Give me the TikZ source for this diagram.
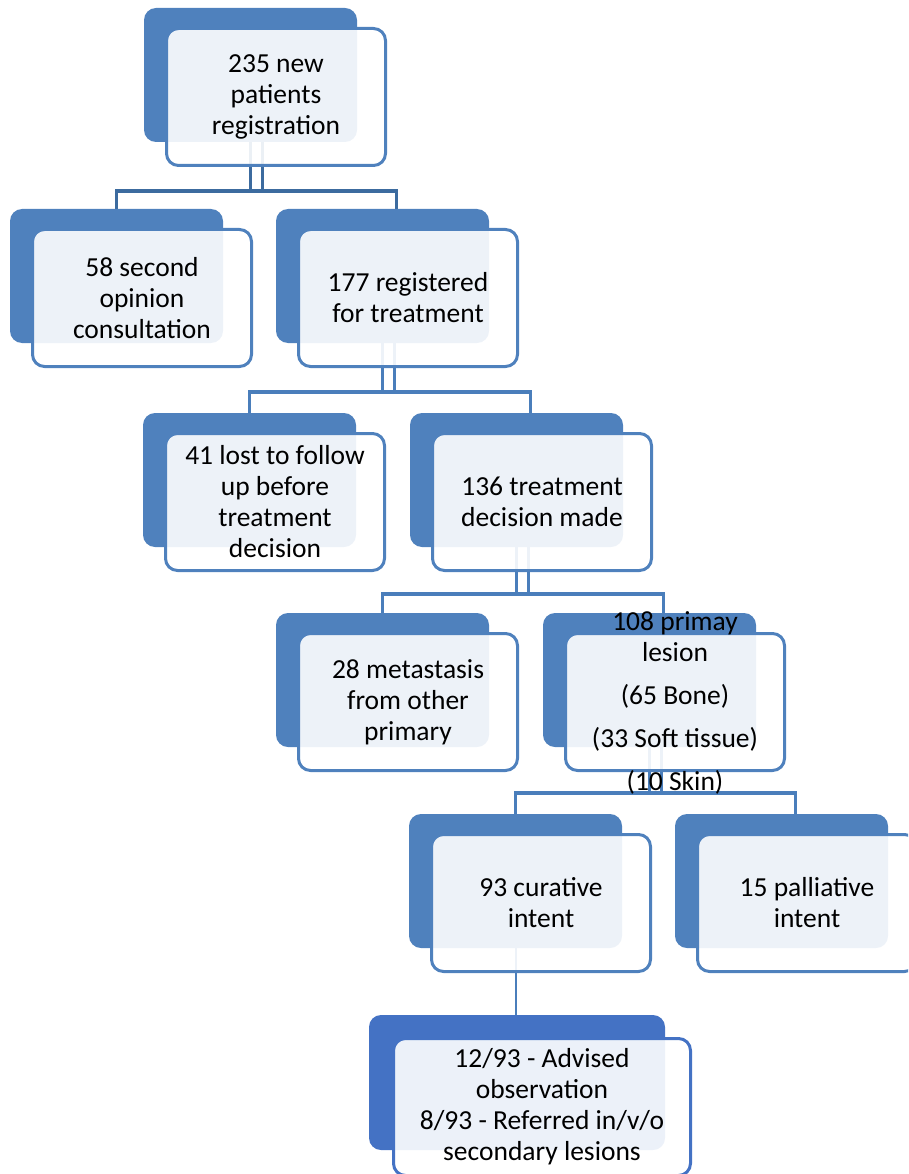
\documentclass[tikz,border=0pt]{standalone}
\usepackage{fontspec}
\setmainfont{Carlito}
\usepackage{tikz}
\usetikzlibrary{calc}
\definecolor{boxblue}{HTML}{4F81BD}
\definecolor{boxblueb}{HTML}{4472C4}
\definecolor{linkdark}{HTML}{3C6B9F}
\definecolor{linkblue}{HTML}{4A7EBB}
\pgfdeclarelayer{background}
\pgfsetlayers{background,main}
\tikzset{
  backbox/.style={fill=boxblue, rounded corners=12pt, minimum width=213pt, minimum height=134pt, inner sep=0pt},
  frontbox/.style={draw=boxblue, line width=3pt, fill=white, fill opacity=0.9, text opacity=1, rounded corners=12pt,
    minimum width=219pt, minimum height=137pt, inner sep=0pt, align=center, font={\fontsize{27.5}{31}\selectfont}},
  boxtext/.style={inner sep=0pt, align=center, font={\fontsize{27.5}{31}\selectfont}},
  link/.style={draw=linkblue, line width=3.5pt},
  toplink/.style={draw=linkdark, line width=3.5pt},
  thinlink/.style={draw=linkblue, line width=2pt},
}

\begin{document}
\begin{tikzpicture}[x=1pt,y=-1pt]
  \useasboundingbox (0,0) rectangle (908,1174);
  \clip (0,0) rectangle (908,1174);
  % each box: dark card up-left, light card in front
  \coordinate (reg-c) at (276,97);
  \node[backbox] (reg-b) at ($(reg-c)+(-25.5,-22)$) {};
  \node[frontbox] (reg) at (reg-c) {235 new\\patients\\registration};

  \coordinate (second-c) at (142,298);
  \node[backbox] (second-b) at ($(second-c)+(-25.5,-22)$) {};
  \node[frontbox] (second) at (second-c) {58 second\\opinion\\consultation};

  \coordinate (registered-c) at (408,298);
  \node[backbox] (registered-b) at ($(registered-c)+(-25.5,-22)$) {};
  \node[frontbox] (registered) at (registered-c) {177 registered\\for treatment};

  \coordinate (lost-c) at (275,502);
  \node[backbox] (lost-b) at ($(lost-c)+(-25.5,-22)$) {};
  \node[frontbox] (lost) at (lost-c) {41 lost to follow\\up before\\treatment\\decision};

  \coordinate (decision-c) at (542,502);
  \node[backbox] (decision-b) at ($(decision-c)+(-25.5,-22)$) {};
  \node[frontbox] (decision) at (decision-c) {136 treatment\\decision made};

  \coordinate (metastasis-c) at (408,702);
  \node[backbox] (metastasis-b) at ($(metastasis-c)+(-25.5,-22)$) {};
  \node[frontbox] (metastasis) at (metastasis-c) {28 metastasis\\from other\\primary};

  % text runs past the card here
  \coordinate (primary-c) at (675,702);
  \node[backbox] (primary-b) at ($(primary-c)+(-25.5,-22)$) {};
  \node[frontbox] (primary) at (primary-c) {};
  \node[boxtext] (primary-t) at ($(primary-c)+(0,1)$)
    {108 primay\\lesion\\[12pt](65 Bone)\\[12pt](33 Soft tissue)\\[12pt](10 Skin)};

  \coordinate (curative-c) at (541,903);
  \node[backbox] (curative-b) at ($(curative-c)+(-25.5,-22)$) {};
  \node[frontbox] (curative) at (curative-c) {93 curative\\intent};

  \coordinate (palliative-c) at (807,903);
  \node[backbox] (palliative-b) at ($(palliative-c)+(-25.5,-22)$) {};
  \node[frontbox] (palliative) at (palliative-c) {15 palliative\\intent};

  \coordinate (outcome-c) at (542,1107);
  \node[backbox, fill=boxblueb, minimum width=296pt, minimum height=135pt] (outcome-b) at ($(outcome-c)+(-25,-24.5)$) {};
  \node[frontbox, draw=boxblueb, minimum width=297pt] (outcome) at (outcome-c)
    {12/93 - Advised\\observation\\8/93 - Referred in/v/o\\secondary lesions};

  % connectors sit behind the cards
  \begin{pgfonlayer}{background}
    \draw[toplink] (reg-b.south) -- ++(0,49);
    \draw[toplink] ($(reg-b.south)+(12,0)$) -- ++(0,49);
    \draw[toplink] (second-b.north) -- ++(0,-18) -| ($(registered-b.north)+(14,0)$);

    \draw[link] (registered-b.south) -- ++(0,49);
    \draw[link] ($(registered-b.south)+(12,0)$) -- ++(0,49);
    \draw[link] (lost-b.north) -- ++(0,-21) -| ($(decision-b.north)+(14,0)$);

    \draw[link] (decision-b.south) -- ++(0,47);
    \draw[link] ($(decision-b.south)+(12,0)$) -- ++(0,47);
    \draw[link] (metastasis-b.north) -- ++(0,-19) -| ($(primary-b.north)+(14,0)$);

    \draw[link] (primary-b.south) -- ++(0,46);
    \draw[link] ($(primary-b.south)+(12,0)$) -- ++(0,46);
    \draw[link] (curative-b.north) -- ++(0,-21) -| ($(palliative-b.north)+(14,0)$);

    \draw[thinlink] (curative-b.south) -- (curative-b.south |- outcome-b.north);
  \end{pgfonlayer}
\end{tikzpicture}
\end{document}
